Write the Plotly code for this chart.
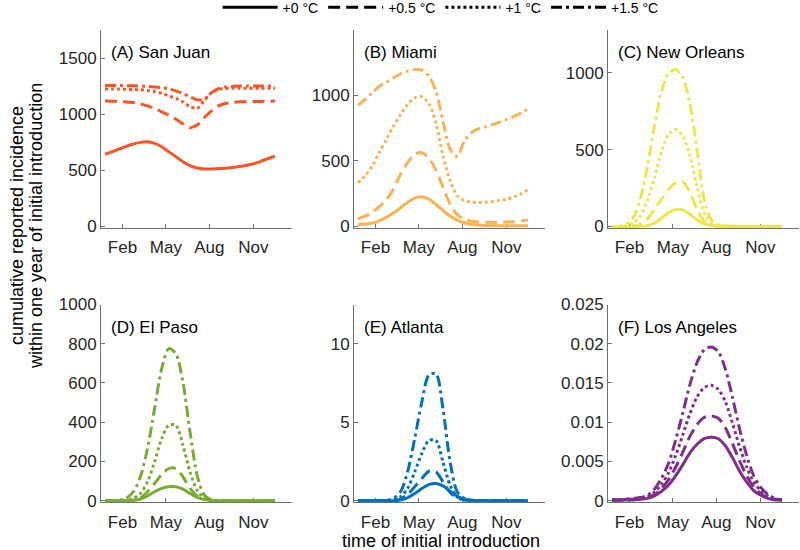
import plotly.graph_objects as go

# day of year at which the virus is introduced (sampled every 15 days)
days = [1, 16, 31, 46, 61, 76, 91, 106, 121, 136, 151, 166, 181,
        196, 211, 226, 241, 256, 271, 286, 301, 316, 331, 346, 361]

month_ticks = [38, 130, 222, 315]
month_labels = ["Feb", "May", "Aug", "Nov"]

warming = ["+0 \u00b0C", "+0.5 \u00b0C", "+1 \u00b0C", "+1.5 \u00b0C"]

# (A) San Juan
sj_0 = [642, 666, 690, 713, 734, 749, 755, 740, 710, 666, 622, 577, 542,
        521, 512, 512, 515, 518, 524, 533, 545, 559, 580, 604, 625]
sj_05 = [1118, 1116, 1113, 1108, 1104, 1092, 1074, 1051, 1021, 992, 956, 915, 879,
         903, 968, 1027, 1074, 1095, 1105, 1110, 1112, 1113, 1114, 1115, 1117]
sj_1 = [1225, 1225, 1224, 1222, 1220, 1217, 1212, 1202, 1186, 1163, 1140, 1110, 1068,
        1052, 1120, 1190, 1220, 1228, 1230, 1231, 1231, 1231, 1231, 1231, 1231]
sj_15 = [1255, 1255, 1255, 1254, 1253, 1251, 1248, 1243, 1236, 1225, 1208, 1185, 1155,
         1128, 1135, 1190, 1228, 1243, 1248, 1250, 1251, 1252, 1252, 1252, 1252]

# (B) Miami
mi_0 = [13, 18, 25, 43, 69, 102, 142, 183, 216, 226, 208, 168, 122,
        79, 48, 28, 15, 10, 8, 7, 6, 6, 6, 6, 6]
mi_05 = [58, 78, 108, 150, 205, 284, 398, 487, 551, 563, 520, 430, 300,
         170, 90, 55, 40, 34, 31, 30, 31, 33, 36, 42, 50]
mi_1 = [335, 386, 462, 563, 665, 766, 855, 931, 982, 990, 939, 790, 540,
        350, 235, 198, 185, 183, 185, 190, 198, 208, 226, 249, 279]
mi_15 = [924, 970, 1020, 1071, 1101, 1134, 1165, 1185, 1198, 1193, 1147, 1033, 800,
         590, 535, 650, 716, 746, 761, 777, 797, 817, 840, 865, 898]

# (C) New Orleans
no_0 = [0, 0, 0, 0, 1, 4, 22, 54, 91, 110, 108, 80, 43,
        17, 6, 2, 1, 0, 0, 0, 0, 0, 0, 0, 0]
no_05 = [0, 0, 0, 2, 15, 48, 113, 178, 242, 286, 290, 221, 113,
         37, 11, 3, 1, 0, 0, 0, 0, 0, 0, 0, 0]
no_1 = [0, 0, 4, 22, 69, 167, 318, 491, 600, 632, 589, 460, 260,
        90, 25, 8, 3, 1, 0, 0, 0, 0, 0, 0, 0]
no_15 = [0, 0, 15, 58, 178, 394, 654, 881, 1000, 1022, 968, 800, 500,
         180, 45, 12, 3, 1, 0, 0, 0, 0, 0, 0, 0]

# (D) El Paso
ep_0 = [0, 0, 0, 0, 2, 8, 24, 46, 63, 71, 71, 59, 37,
        17, 7, 2, 0, 0, 0, 0, 0, 0, 0, 0, 0]
ep_05 = [0, 0, 0, 0, 2, 15, 46, 88, 134, 164, 164, 122, 63,
         24, 7, 2, 0, 0, 0, 0, 0, 0, 0, 0, 0]
ep_1 = [0, 0, 0, 2, 12, 37, 97, 198, 317, 385, 385, 283, 147,
        54, 12, 3, 0, 0, 0, 0, 0, 0, 0, 0, 0]
ep_15 = [0, 0, 2, 12, 46, 122, 266, 470, 673, 775, 749, 605, 351,
         131, 29, 5, 0, 0, 0, 0, 0, 0, 0, 0, 0]

# (E) Atlanta
at_0 = [0, 0, 0, 0, 0, 0, 0.04, 0.19, 0.46, 0.78, 1.03, 1.10, 0.95,
        0.61, 0.30, 0.11, 0.03, 0, 0, 0, 0, 0, 0, 0, 0]
at_05 = [0, 0, 0, 0, 0, 0.02, 0.10, 0.40, 0.89, 1.41, 1.88, 1.84, 1.20,
         0.53, 0.19, 0.05, 0.01, 0, 0, 0, 0, 0, 0, 0, 0]
at_1 = [0, 0, 0, 0, 0, 0.06, 0.25, 0.78, 1.84, 3.00, 3.84, 3.84, 2.47,
        0.99, 0.25, 0.05, 0.01, 0, 0, 0, 0, 0, 0, 0, 0]
at_15 = [0, 0, 0, 0, 0.02, 0.15, 0.57, 1.84, 3.95, 6.27, 8.00, 8.10, 5.84,
         2.47, 0.57, 0.15, 0.03, 0, 0, 0, 0, 0, 0, 0, 0]

# (F) Los Angeles
la_0 = [0.0001, 0.0001, 0.0001, 0.0001, 0.0002, 0.0003, 0.0006, 0.0012, 0.0020,
        0.0032, 0.0046, 0.0061, 0.0072, 0.0079, 0.0081, 0.0079, 0.0070, 0.0055,
        0.0038, 0.0024, 0.0013, 0.0007, 0.0003, 0.0001, 0.0001]
la_05 = [0.0001, 0.0001, 0.0001, 0.0002, 0.0003, 0.0004, 0.0008, 0.0016, 0.0027,
         0.0043, 0.0062, 0.0082, 0.0097, 0.0106, 0.0108, 0.0105, 0.0093, 0.0073,
         0.0051, 0.0032, 0.0018, 0.0009, 0.0004, 0.0002, 0.0001]
la_1 = [0.0001, 0.0001, 0.0002, 0.0002, 0.0003, 0.0005, 0.0011, 0.0021, 0.0036,
        0.0058, 0.0084, 0.0111, 0.0132, 0.0144, 0.0147, 0.0142, 0.0126, 0.0099,
        0.0069, 0.0043, 0.0024, 0.0013, 0.0006, 0.0002, 0.0001]
la_15 = [0.0001, 0.0001, 0.0002, 0.0003, 0.0004, 0.0007, 0.0015, 0.0029, 0.0048,
         0.0078, 0.0112, 0.0148, 0.0176, 0.0192, 0.0196, 0.0190, 0.0168, 0.0132,
         0.0092, 0.0058, 0.0032, 0.0017, 0.0008, 0.0003, 0.0001]

# label, colour, series, y max, y ticks
panels = [
    ("(A) San Juan", "#FC5424", [sj_0, sj_05, sj_1, sj_15], 1750, [0, 500, 1000, 1500]),
    ("(B) Miami", "#FDB252", [mi_0, mi_05, mi_1, mi_15], 1500, [0, 500, 1000]),
    ("(C) New Orleans", "#EEE64C", [no_0, no_05, no_1, no_15], 1280, [0, 500, 1000]),
    ("(D) El Paso", "#77AC30", [ep_0, ep_05, ep_1, ep_15], 1000, [0, 200, 400, 600, 800, 1000]),
    ("(E) Atlanta", "#0072BD", [at_0, at_05, at_1, at_15], 12.5, [0, 5, 10]),
    ("(F) Los Angeles", "#7E2F8E", [la_0, la_05, la_1, la_15], 0.025,
     [0, 0.005, 0.01, 0.015, 0.02, 0.025]),
]

dashes = ["solid", "12px,6px", "3px,3px", "11px,4px,3px,4px"]

W, H = 800, 550
col_px = [(101, 292), (354, 545), (608, 799)]
row_px = [(30, 228), (304.5, 502.3)]

FONT = "Liberation Sans, Arial, Helvetica, sans-serif"
axis_grey = "#707070"
text_col = "#262626"

fig = go.Figure()
layout = {}
annotations = []

for i, (label, color, series, ymax, yticks) in enumerate(panels):
    n = i + 1
    sfx = "" if n == 1 else str(n)
    r, c = divmod(i, 3)
    x0, x1 = col_px[c]
    top, bot = row_px[r]

    for vals, dash in zip(series, dashes):
        fig.add_trace(go.Scatter(
            x=days, y=vals, mode="lines",
            line=dict(color=color, width=3, dash=dash, shape="spline", smoothing=0.8),
            xaxis="x" + sfx, yaxis="y" + sfx, showlegend=False, hoverinfo="skip"))

    layout["xaxis" + sfx] = dict(
        domain=[x0 / W, x1 / W], range=[-7.5, 397], anchor="y" + sfx,
        tickvals=month_ticks, ticktext=month_labels,
        ticks="inside", ticklen=4, tickcolor=axis_grey, ticklabelstandoff=4,
        showline=True, linecolor=axis_grey, linewidth=1,
        showgrid=False, zeroline=False, layer="below traces",
        tickfont=dict(family=FONT, size=17, color=text_col))
    layout["yaxis" + sfx] = dict(
        domain=[1 - bot / H, 1 - top / H], range=[-0.008 * ymax, ymax], anchor="x" + sfx,
        tickvals=yticks,
        ticks="inside", ticklen=4, tickcolor=axis_grey,
        showline=True, linecolor=axis_grey, linewidth=1,
        showgrid=False, zeroline=False, layer="below traces",
        tickfont=dict(family=FONT, size=17, color=text_col))

    annotations.append(dict(
        text=label, xref="x%s domain" % sfx, yref="y%s domain" % sfx,
        x=0.04, y=0.885, xanchor="left", yanchor="middle", showarrow=False,
        font=dict(family=FONT, size=17, color="black")))

# legend entries (black line samples)
for name, dash in zip(warming, dashes):
    fig.add_trace(go.Scatter(
        x=[None], y=[None], mode="lines", name=name,
        line=dict(color="black", width=3, dash=dash)))

annotations.append(dict(
    text="cumulative reported incidence", xref="paper", yref="paper",
    x=17 / W, y=1 - 226 / H, textangle=-90, showarrow=False,
    xanchor="center", yanchor="middle", font=dict(family=FONT, size=18, color="black")))
annotations.append(dict(
    text="within one year of initial introduction", xref="paper", yref="paper",
    x=36 / W, y=1 - 226 / H, textangle=-90, showarrow=False,
    xanchor="center", yanchor="middle", font=dict(family=FONT, size=18, color="black")))
annotations.append(dict(
    text="time of initial introduction", xref="paper", yref="paper",
    x=441 / W, y=1 - 541 / H, showarrow=False,
    xanchor="center", yanchor="middle", font=dict(family=FONT, size=18, color="black")))

fig.update_layout(
    width=W, height=H,
    margin=dict(l=0, r=0, t=0, b=0, autoexpand=False),
    plot_bgcolor="white", paper_bgcolor="white",
    annotations=annotations,
    legend=dict(orientation="h", x=0.272, y=1.015, xanchor="left", yanchor="top",
                itemwidth=55, bgcolor="rgba(0,0,0,0)",
                font=dict(family=FONT, size=14, color="black")),
    **layout)

# drop the default page margin so the figure sits at the window's corner
fig.write_html("out.html", config={"displayModeBar": False},
               post_script="document.body.style.margin='0px';")
